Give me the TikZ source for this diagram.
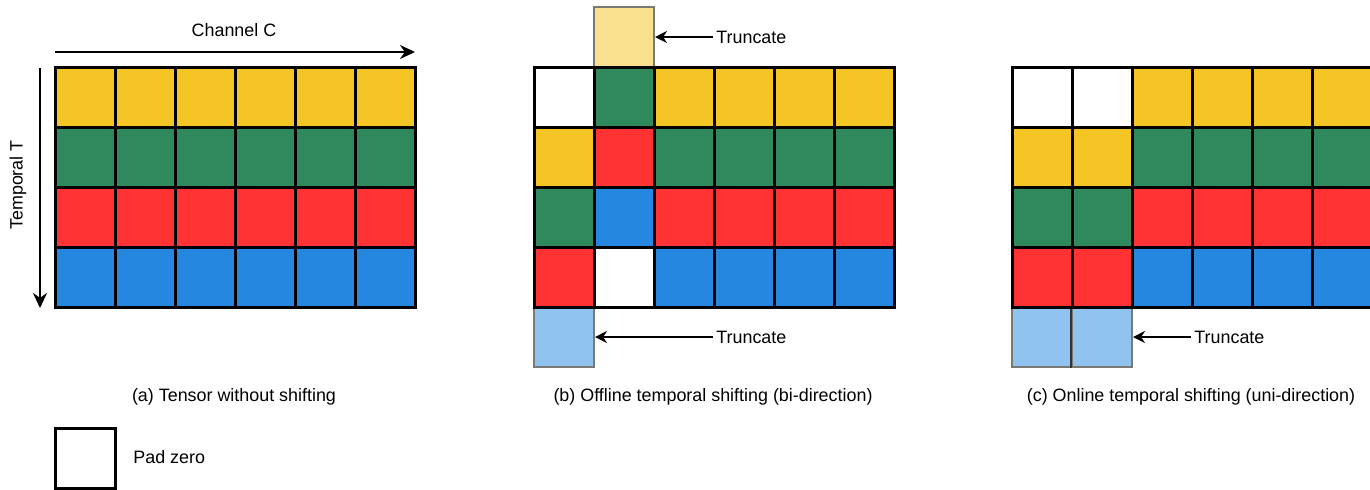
\documentclass[tikz,border=0pt]{standalone}
\usepackage{fontspec}
\setmainfont{Liberation Sans}
\usetikzlibrary{arrows.meta}
\definecolor{cY}{HTML}{F5C526}
\definecolor{cG}{HTML}{2F895D}
\definecolor{cR}{HTML}{FF3333}
\definecolor{cB}{HTML}{2587E0}
\definecolor{cW}{HTML}{FFFFFF}
\definecolor{cLY}{HTML}{F9E08F}
\definecolor{cLB}{HTML}{90C3F0}
\definecolor{cutedge}{HTML}{7A7A74}
\begin{document}
\begin{tikzpicture}[x=0.5pt,y=-0.5pt,
  every node/.style={font=\fontsize{8.95}{11}\selectfont},
  cell/.style={draw=black,line width=1.3pt,minimum width=30pt,minimum height=30pt,
    inner sep=0pt,anchor=north west},
  cutcell/.style={draw=cutedge,line width=1pt,minimum width=30pt,minimum height=30pt,
    inner sep=0pt,anchor=north west},
  axis/.style={line width=0.8pt,-{Stealth[length=7.5pt,width=7pt]}},
  cutarrow/.style={line width=0.8pt,-{Stealth[length=6pt,width=6pt]}},
  label/.style={anchor=west,inner sep=0pt}]
\useasboundingbox (0,0) rectangle (1370,489);

% (a) tensor without shifting
\foreach \row [count=\r from 0] in {{Y,Y,Y,Y,Y,Y},{G,G,G,G,G,G},{R,R,R,R,R,R},{B,B,B,B,B,B}}
  \foreach \c [count=\i from 0] in \row
    \node[cell,fill=c\c] (a-\r-\i) at ({54+60*\i},{66+60*\r}) {};

% (b) offline shift, both directions
\node[cutcell,fill=cLY] (b-top) at (593,6) {};
\node[cutcell,fill=cLB] (b-bot) at (533,306) {};
\foreach \row [count=\r from 0] in {{W,G,Y,Y,Y,Y},{Y,R,G,G,G,G},{G,B,R,R,R,R},{R,W,B,B,B,B}}
  \foreach \c [count=\i from 0] in \row
    \node[cell,fill=c\c] (b-\r-\i) at ({533+60*\i},{66+60*\r}) {};

% (c) online shift, one direction
\node[cutcell,fill=cLB] (c-bot0) at (1011,306) {};
\node[cutcell,fill=cLB] (c-bot1) at (1071,306) {};
\draw[line width=1pt,black!80] (c-bot1.north west) -- (c-bot1.south west);
\foreach \row [count=\r from 0] in {{W,W,Y,Y,Y,Y},{Y,Y,G,G,G,G},{G,G,R,R,R,R},{R,R,B,B,B,B}}
  \foreach \c [count=\i from 0] in \row
    \node[cell,fill=c\c] (c-\r-\i) at ({1011+60*\i},{66+60*\r}) {};

% axes of the tensor
\node (chan) at (234,30) {Channel C};
\coordinate (chs) at (55,52);
\coordinate (che) at (415,52);
\draw[axis] (chs) -- (che);
\node[rotate=90] (temp) at (18,185) {Temporal T};
\coordinate (tps) at (40,68);
\coordinate (tpe) at (40,308);
\draw[axis] (tps) -- (tpe);

% truncation markers
\node[label] (tr1) at (716,37) {Truncate};
\draw[cutarrow] (tr1.west) ++(-3,0) -- (b-top.east);
\node[label] (tr2) at (716,337) {Truncate};
\draw[cutarrow] (tr2.west) ++(-3,0) -- (b-bot.east);
\node[label] (tr3) at (1194,337) {Truncate};
\draw[cutarrow] (tr3.west) ++(-3,0) -- (c-bot1.east);

% captions
\node (capa) at (234,397) {(a) Tensor without shifting};
\node (capb) at (713,397) {(b) Offline temporal shifting (bi-direction)};
\node (capc) at (1191,397) {(c) Online temporal shifting (uni-direction)};

% legend
\node[cell,fill=white] (pad) at (54,427) {};
\node[label] (padt) at (133,457) {Pad zero};
\end{tikzpicture}
\end{document}
